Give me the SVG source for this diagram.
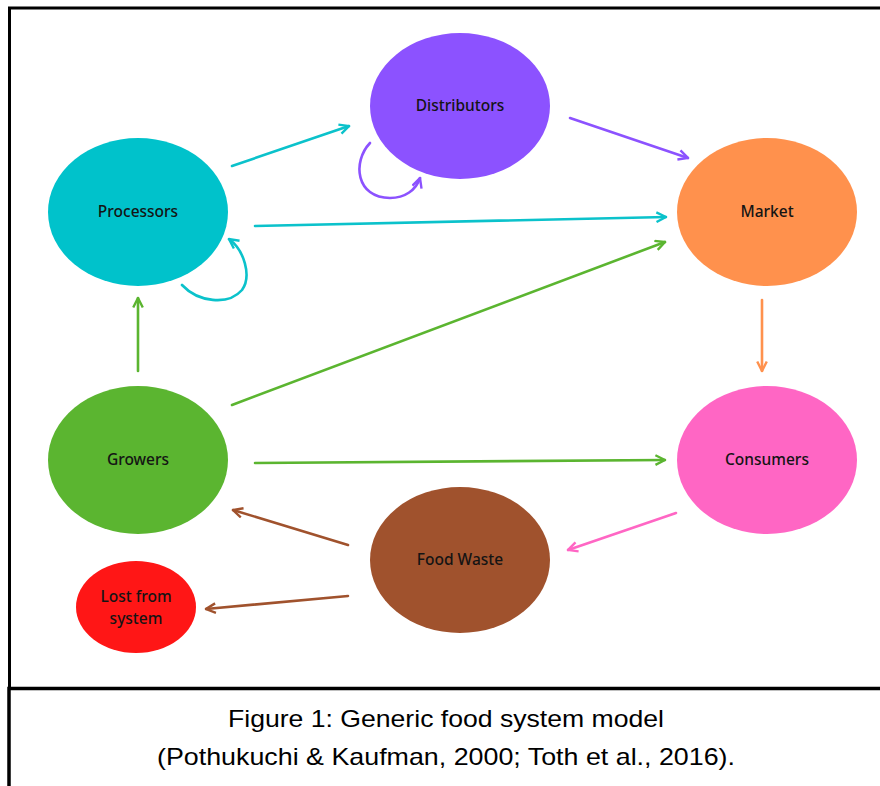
<svg xmlns="http://www.w3.org/2000/svg" width="880" height="786" viewBox="0 0 880 786">
<defs>
<style>
.lbl{font-family:"Noto Sans","Open Sans",sans-serif;font-size:15.5px;font-weight:500;fill:#141414;text-anchor:middle}
.cap{font-family:"Liberation Sans",Arial,sans-serif;font-size:24px;fill:#000;text-anchor:middle}
.c{fill:none;stroke-width:2.6;stroke-linecap:round}
.teal{stroke:#0BC2CB}.purple{stroke:#8C52FF}.green{stroke:#5BB530}.orange{stroke:#FF914D}.pink{stroke:#FF66C4}.brown{stroke:#A0522D}
</style>
<marker id="aT" viewBox="0 0 10 10" refX="9" refY="5" markerWidth="4.6" markerHeight="4.6" orient="auto" markerUnits="strokeWidth"><path d="M1,1 L9,5 L1,9" fill="none" stroke="#0BC2CB" stroke-width="2"/></marker>
<marker id="aP" viewBox="0 0 10 10" refX="9" refY="5" markerWidth="4.6" markerHeight="4.6" orient="auto" markerUnits="strokeWidth"><path d="M1,1 L9,5 L1,9" fill="none" stroke="#8C52FF" stroke-width="2"/></marker>
<marker id="aG" viewBox="0 0 10 10" refX="9" refY="5" markerWidth="4.6" markerHeight="4.6" orient="auto" markerUnits="strokeWidth"><path d="M1,1 L9,5 L1,9" fill="none" stroke="#5BB530" stroke-width="2"/></marker>
<marker id="aO" viewBox="0 0 10 10" refX="9" refY="5" markerWidth="4.6" markerHeight="4.6" orient="auto" markerUnits="strokeWidth"><path d="M1,1 L9,5 L1,9" fill="none" stroke="#FF914D" stroke-width="2"/></marker>
<marker id="aK" viewBox="0 0 10 10" refX="9" refY="5" markerWidth="4.6" markerHeight="4.6" orient="auto" markerUnits="strokeWidth"><path d="M1,1 L9,5 L1,9" fill="none" stroke="#FF66C4" stroke-width="2"/></marker>
<marker id="aB" viewBox="0 0 10 10" refX="9" refY="5" markerWidth="4.6" markerHeight="4.6" orient="auto" markerUnits="strokeWidth"><path d="M1,1 L9,5 L1,9" fill="none" stroke="#A0522D" stroke-width="2"/></marker>
</defs>
<rect width="880" height="786" fill="#fff"/>
<g id="frame" fill="none" stroke="#000">
<path d="M9.5,688 V8 H880" stroke-width="3"/>
<path d="M9,786 V688.5 H880" stroke-width="3.5"/>
</g>
<g id="connectors">
<line class="c teal" x1="232" y1="166" x2="349" y2="126" marker-end="url(#aT)"/>
<line class="c purple" x1="570" y1="118" x2="688" y2="158" marker-end="url(#aP)"/>
<line class="c teal" x1="255" y1="226" x2="666" y2="217" marker-end="url(#aT)"/>
<line class="c green" x1="232" y1="405" x2="665" y2="242" marker-end="url(#aG)"/>
<line class="c green" x1="138" y1="371" x2="138" y2="298" marker-end="url(#aG)"/>
<line class="c orange" x1="762" y1="300" x2="762" y2="371" marker-end="url(#aO)"/>
<line class="c green" x1="255" y1="463" x2="665" y2="460" marker-end="url(#aG)"/>
<line class="c pink" x1="676" y1="513" x2="568" y2="550" marker-end="url(#aK)"/>
<line class="c brown" x1="348" y1="545" x2="233" y2="510" marker-end="url(#aB)"/>
<line class="c brown" x1="348" y1="596" x2="206" y2="609" marker-end="url(#aB)"/>
<path class="c purple" d="M370,143 C352,162 356,198 390,198 C405,198 416,190 420,178" marker-end="url(#aP)"/>
<path class="c teal" d="M182,285 C198,302 228,306 242,290 C252,276 244,250 229,239" marker-end="url(#aT)"/>
</g>
<g id="distributors"><ellipse cx="460" cy="106" rx="90" ry="73" fill="#8C52FF"/><text class="lbl" x="460" y="111">Distributors</text></g>
<g id="processors"><ellipse cx="138" cy="212" rx="90" ry="74" fill="#00C2CB"/><text class="lbl" x="138" y="217">Processors</text></g>
<g id="market"><ellipse cx="767" cy="212" rx="90" ry="74" fill="#FF914D"/><text class="lbl" x="767" y="217">Market</text></g>
<g id="growers"><ellipse cx="138" cy="460" rx="90" ry="74" fill="#5BB530"/><text class="lbl" x="138" y="465">Growers</text></g>
<g id="consumers"><ellipse cx="767" cy="460" rx="90" ry="74" fill="#FF66C4"/><text class="lbl" x="767" y="465">Consumers</text></g>
<g id="foodwaste"><ellipse cx="460" cy="560" rx="90" ry="73" fill="#A0522D"/><text class="lbl" x="460" y="565">Food Waste</text></g>
<g id="lost"><ellipse cx="136" cy="607" rx="60" ry="46" fill="#FF1616"/><text class="lbl" x="136" y="602">Lost from</text><text class="lbl" x="136" y="624">system</text></g>
<g id="caption">
<text class="cap" x="446" y="727" textLength="436" lengthAdjust="spacingAndGlyphs">Figure 1: Generic food system model</text>
<text class="cap" x="446" y="765" textLength="578" lengthAdjust="spacingAndGlyphs">(Pothukuchi &amp; Kaufman, 2000; Toth et al., 2016).</text>
</g>
</svg>
